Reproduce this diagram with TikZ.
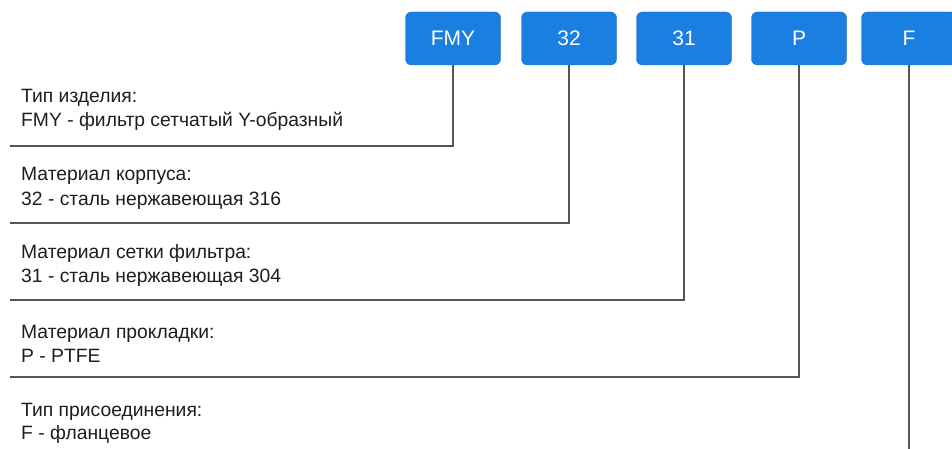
\documentclass[tikz,border=0pt]{standalone}
\usepackage{fontspec}
\setmainfont{Liberation Sans}
\definecolor{boxblue}{RGB}{27,127,226}
\definecolor{boxedge}{RGB}{22,105,190}
\definecolor{linegray}{RGB}{85,85,85}
\definecolor{txt}{RGB}{30,30,30}
\begin{document}
\begin{tikzpicture}[x=1pt,y=-1pt,
  codebox/.style={draw=boxedge,fill=boxblue,rounded corners=6pt,minimum width=95pt,minimum height=53pt,
    text=white,font=\fontsize{21}{24}\selectfont,inner sep=0pt},
  lbl/.style={anchor=base west,text=txt,font=\fontsize{19.3}{22}\selectfont,inner sep=0pt},
  conn/.style={draw=linegray,line width=1.1pt}]
\useasboundingbox (0,0) rectangle (952,449);
\fill[white] (0,0) rectangle (952,449);
\node[codebox] (fmy) at (453,38.5) {FMY};
\node[codebox] (b32) at (569,38.5) {32};
\node[codebox] (b31) at (684,38.5) {31};
\node[codebox] (bp) at (799,38.5) {P};
\node[codebox] (bf) at (909,38.5) {F};
\coordinate (e1) at (10,146);
\coordinate (e2) at (10,223);
\coordinate (e3) at (10,300);
\coordinate (e4) at (10,377);
\coordinate (e5) at (909,449);
\draw[conn] (fmy.south) |- (e1);
\draw[conn] (b32.south) |- (e2);
\draw[conn] (b31.south) |- (e3);
\draw[conn] (bp.south) |- (e4);
\draw[conn] (bf.south) -- (e5);
\node[lbl] (t1a) at (21,103) {Тип изделия:};
\node[lbl] (t1b) at (21,127) {FMY - фильтр сетчатый Y-образный};
\node[lbl] (t2a) at (21,181) {Материал корпуса:};
\node[lbl] (t2b) at (21,205) {32 - сталь нержавеющая 316};
\node[lbl] (t3a) at (21,258) {Материал сетки фильтра:};
\node[lbl] (t3b) at (21,282) {31 - сталь нержавеющая 304};
\node[lbl] (t4a) at (21,338) {Материал прокладки:};
\node[lbl] (t4b) at (21,362) {P - PTFE};
\node[lbl] (t5a) at (21,416) {Тип присоединения:};
\node[lbl] (t5b) at (21,439) {F - фланцевое};
\end{tikzpicture}
\end{document}
